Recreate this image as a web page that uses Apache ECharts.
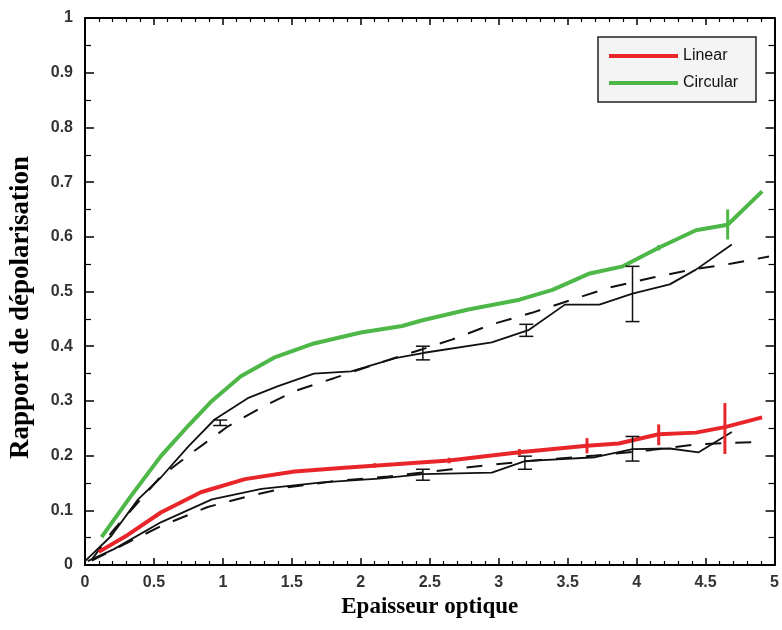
<!DOCTYPE html>
<html><head><meta charset="utf-8">
<script src="https://cdn.jsdelivr.net/npm/echarts@6/dist/echarts.min.js"></script>
<style>html,body{margin:0;padding:0;background:#fff}#c{width:782px;height:630px}</style>
</head><body><div id="c"></div>
<script>
// Circular (green) model curve
const circularX = [0.12, 0.33, 0.55, 0.75, 0.92, 1.13, 1.37, 1.66, 2.0, 2.30, 2.44, 2.78, 3.15, 3.39, 3.66, 3.90, 4.16, 4.43, 4.66, 4.91];
const circularY = [0.051, 0.125, 0.199, 0.255, 0.300, 0.345, 0.379, 0.405, 0.425, 0.437, 0.447, 0.467, 0.485, 0.503, 0.533, 0.546, 0.580, 0.612, 0.622, 0.683];
// Linear (red) model curve
const linearX = [0.10, 0.31, 0.55, 0.84, 1.16, 1.52, 1.88, 2.25, 2.64, 3.15, 3.64, 3.87, 4.16, 4.43, 4.64, 4.91];
const linearY = [0.024, 0.055, 0.096, 0.133, 0.157, 0.171, 0.178, 0.184, 0.191, 0.206, 0.218, 0.222, 0.239, 0.242, 0.252, 0.270];
// Black solid (circular measurements)
const circSolidX = [0.0, 0.19, 0.385, 0.55, 0.75, 0.94, 1.18, 1.40, 1.66, 1.93, 2.25, 2.46, 2.95, 3.22, 3.48, 3.73, 3.97, 4.24, 4.43, 4.69];
const circSolidY = [0.007, 0.053, 0.120, 0.160, 0.217, 0.266, 0.305, 0.327, 0.350, 0.354, 0.378, 0.388, 0.407, 0.430, 0.476, 0.476, 0.496, 0.513, 0.540, 0.586];
// Black dashed (circular)
const circDashX = [0.05, 0.2, 0.55, 0.79, 1.04, 1.28, 1.52, 1.81, 2.25, 2.44, 2.66, 2.95, 3.24, 3.53, 3.80, 4.11, 4.40, 4.69, 4.96];
const circDashY = [0.010, 0.062, 0.162, 0.208, 0.254, 0.288, 0.318, 0.342, 0.379, 0.394, 0.412, 0.440, 0.461, 0.485, 0.507, 0.525, 0.540, 0.551, 0.564];
// Black solid (linear measurements)
const linSolidX = [0.02, 0.21, 0.55, 0.92, 1.28, 1.72, 2.13, 2.45, 2.95, 3.19, 3.70, 3.97, 4.24, 4.45, 4.69];
const linSolidY = [0.007, 0.029, 0.078, 0.120, 0.139, 0.151, 0.158, 0.166, 0.169, 0.190, 0.197, 0.212, 0.213, 0.206, 0.243];
// Black dashed (linear)
const linDashX = [0.05, 0.19, 0.55, 0.89, 1.16, 1.47, 1.80, 2.20, 2.66, 2.97, 3.30, 3.70, 4.10, 4.45, 4.90];
const linDashY = [0.008, 0.026, 0.071, 0.106, 0.124, 0.142, 0.153, 0.162, 0.175, 0.184, 0.192, 0.200, 0.210, 0.221, 0.225];
// Error bars [x, low, high]
const errBlackCirc = [[0.98, 0.255, 0.265], [2.45, 0.375, 0.400], [3.20, 0.418, 0.440], [3.97, 0.445, 0.546]];
const errBlackLin = [[2.45, 0.155, 0.175], [3.19, 0.175, 0.199], [3.97, 0.190, 0.235]];
const errRed = [[2.10, 0.178, 0.186], [2.64, 0.186, 0.196], [3.15, 0.200, 0.212], [3.64, 0.204, 0.232], [4.16, 0.219, 0.257], [4.64, 0.203, 0.296]];
const errGreen = [[4.16, 0.575, 0.585], [4.66, 0.595, 0.650]];
// Axis ticks
const xMin = 0, xMax = 5, xStep = 0.5;
const yMin = 0, yMax = 1, yStep = 0.1;

const RED = '#e8262a', GREEN = '#4db748', BLACK = '#111';
const zip = (xs, ys) => xs.map((x, i) => [x, ys[i]]);

function errSeries(data, color, width, cap) {
  return {
    type: 'custom', data: data, silent: true, z: 5,
    renderItem: function (params, api) {
      const x = api.value(0), lo = api.value(1), hi = api.value(2);
      const a = api.coord([x, lo]), b = api.coord([x, hi]);
      const st = { stroke: color, lineWidth: width };
      const ch = [{ type: 'line', shape: { x1: a[0], y1: a[1], x2: b[0], y2: b[1] }, style: st }];
      if (cap > 0) {
        ch.push({ type: 'line', shape: { x1: a[0] - cap, y1: a[1], x2: a[0] + cap, y2: a[1] }, style: st });
        ch.push({ type: 'line', shape: { x1: b[0] - cap, y1: b[1], x2: b[0] + cap, y2: b[1] }, style: st });
      }
      return { type: 'group', children: ch };
    }
  };
}

const lineS = (name, data, color, width, type, z) => ({
  name: name, type: 'line', data: data, showSymbol: false, symbol: 'none',
  lineStyle: { color: color, width: width, type: type }, itemStyle: { color: color },
  z: z, silent: true, animation: false
});

const axisCommon = {
  min: xMin, max: xMax,
  axisLine: { show: true, onZero: false, lineStyle: { color: '#000', width: 2 } },
  splitLine: { show: false }
};

const chart = echarts.init(document.getElementById('c'), null, { renderer: 'canvas' });
chart.setOption({
  animation: false,
  backgroundColor: '#fff',
  grid: { left: 84, right: 7, top: 18, bottom: 65, containLabel: false },
  legend: {
    data: ['Linear', 'Circular'],
    orient: 'vertical', left: 598, top: 37,
    padding: [10, 9, 10, 11], itemGap: 9,
    itemWidth: 69, itemHeight: 4, icon: 'rect',
    backgroundColor: '#f4f4f4', borderColor: '#222', borderWidth: 1.5,
    textStyle: { fontFamily: 'Liberation Sans, Arial', fontSize: 16, color: '#111', width: 64, lineHeight: 18 }
  },
  xAxis: [
    Object.assign({}, axisCommon, {
      type: 'value', position: 'bottom', interval: xStep,
      name: 'Epaisseur optique', nameLocation: 'middle', nameGap: 28,
      nameTextStyle: { fontFamily: 'Liberation Serif, Times New Roman', fontWeight: 'bold', fontSize: 23, color: '#000' },
      axisTick: { show: true, inside: true, length: 7, lineStyle: { color: '#000', width: 1.5 } },
      minorTick: { show: true, splitNumber: 5, length: 4, lineStyle: { color: '#000', width: 1.2 } },
      axisLabel: { fontFamily: 'Liberation Sans, Arial', fontWeight: 'bold', fontSize: 16, color: '#333', margin: 10,
        formatter: v => String(+v.toFixed(1)) }
    }),
    Object.assign({}, axisCommon, {
      type: 'value', position: 'top', interval: xStep,
      axisTick: { show: true, inside: true, length: 7, lineStyle: { color: '#000', width: 1.5 } },
      minorTick: { show: true, splitNumber: 5, length: 4, lineStyle: { color: '#000', width: 1.2 } },
      axisLabel: { show: false }
    })
  ],
  yAxis: [
    {
      type: 'value', min: yMin, max: yMax, interval: yStep, position: 'left',
      axisLine: { show: true, onZero: false, lineStyle: { color: '#000', width: 2 } },
      splitLine: { show: false },
      name: 'Rapport de dépolarisation', nameLocation: 'middle', nameGap: 50,
      nameTextStyle: { fontFamily: 'Liberation Serif, Times New Roman', fontWeight: 'bold', fontSize: 27, color: '#000',
        padding: [0, 32, 0, 0] },
      axisTick: { show: true, inside: true, length: 9, lineStyle: { color: '#000', width: 1.5 } },
      minorTick: { show: true, splitNumber: 2, length: 6, lineStyle: { color: '#000', width: 1.2 } },
      axisLabel: { fontFamily: 'Liberation Sans, Arial', fontWeight: 'bold', fontSize: 16, color: '#333', margin: 12,
        formatter: v => String(+v.toFixed(1)) }
    },
    {
      type: 'value', min: yMin, max: yMax, interval: yStep, position: 'right',
      axisLine: { show: true, onZero: false, lineStyle: { color: '#000', width: 2 } },
      splitLine: { show: false },
      axisTick: { show: true, inside: true, length: 9, lineStyle: { color: '#000', width: 1.5 } },
      minorTick: { show: true, splitNumber: 2, length: 6, lineStyle: { color: '#000', width: 1.2 } },
      axisLabel: { show: false }
    }
  ],
  series: [
    lineS('circSolid', zip(circSolidX, circSolidY), BLACK, 1.8, 'solid', 3),
    lineS('circDash', zip(circDashX, circDashY), BLACK, 2, [16, 14], 3),
    lineS('linSolid', zip(linSolidX, linSolidY), BLACK, 1.8, 'solid', 3),
    lineS('linDash', zip(linDashX, linDashY), BLACK, 2, [16, 14], 3),
    lineS('Linear', zip(linearX, linearY), RED, 4, 'solid', 4),
    lineS('Circular', zip(circularX, circularY), GREEN, 4, 'solid', 4),
    errSeries(errBlackCirc, BLACK, 1.5, 7),
    errSeries(errBlackLin, BLACK, 1.5, 7),
    errSeries(errRed, RED, 3, 0),
    errSeries(errGreen, GREEN, 3, 0)
  ]
});
</script></body></html>
